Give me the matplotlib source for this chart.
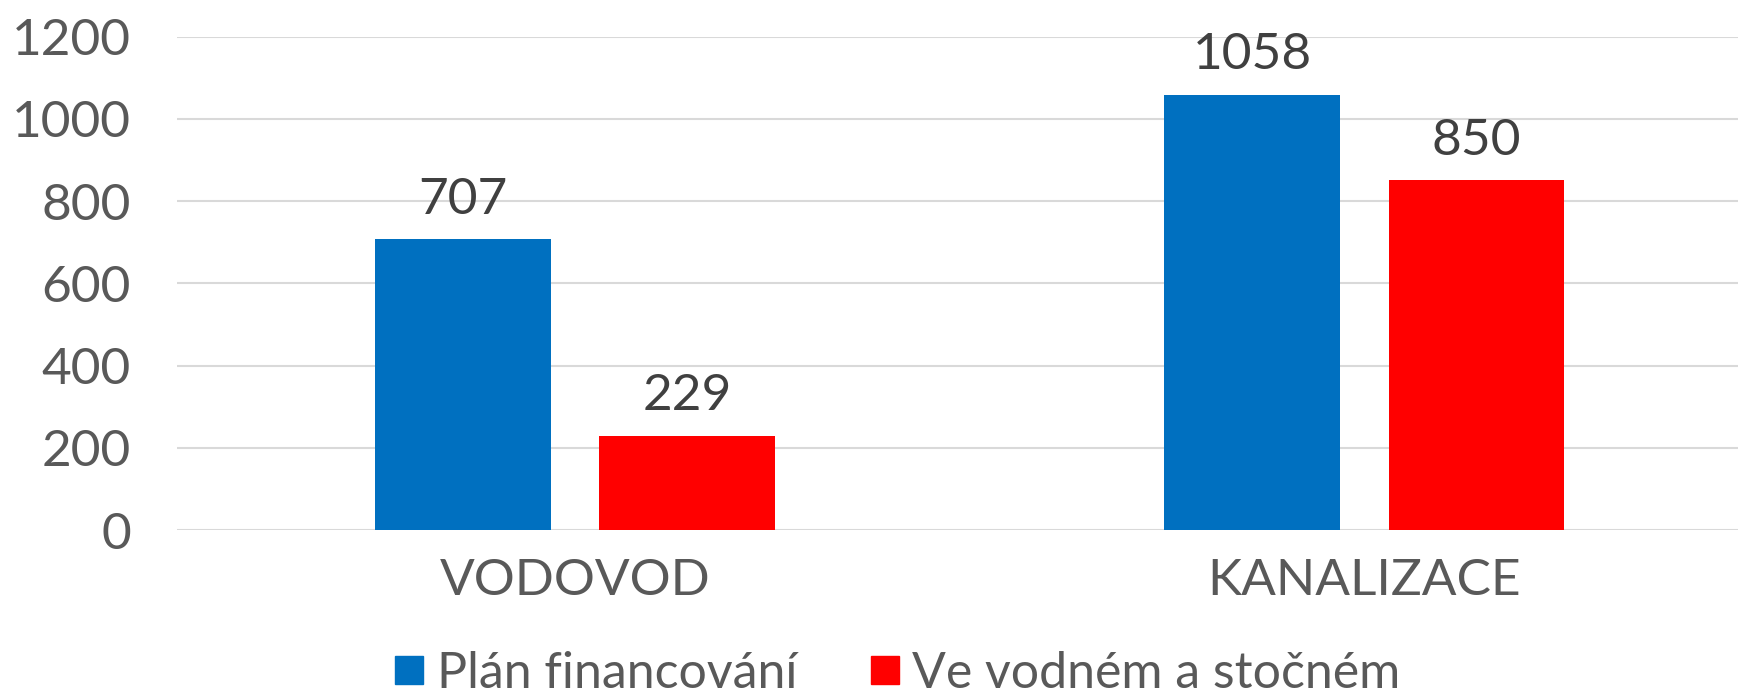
import matplotlib.pyplot as plt
import numpy as np
from matplotlib.lines import Line2D

categories = ["VODOVOD", "KANALIZACE"]
series_names = ["Plán financování", "Ve vodném a stočném"]
plan = [707, 1058]
vodne = [229, 850]
colors = ["#0070C0", "#FF0000"]
yticks = [0, 200, 400, 600, 800, 1000, 1200]

plt.rcParams['font.family'] = ['Lato', 'DejaVu Sans']
text_col = "#595959"

fig = plt.figure(figsize=(17.38, 6.96), dpi=100)
ax = fig.add_axes([0.1018, 0.2385, 0.898, 0.709])

x = np.arange(len(categories))
w = 0.223
off = 0.142
b1 = ax.bar(x - off, plan, w, color=colors[0], zorder=3)
b2 = ax.bar(x + off, vodne, w, color=colors[1], zorder=3)

for bars in (b1, b2):
    for r in bars:
        ax.annotate(f"{int(r.get_height())}", (r.get_x() + r.get_width() / 2, r.get_height()),
                    xytext=(0, 12), textcoords="offset points", ha="center", va="bottom",
                    fontsize=37, color="#404040")

ax.set_xlim(-0.505, 1.473)
ax.set_ylim(0, 1200)
ax.set_yticks(yticks)
ax.set_xticks(x)
ax.set_xticklabels(categories)
ax.tick_params(axis="y", length=0, pad=33, labelsize=37, labelcolor=text_col)
ax.tick_params(axis="x", length=0, pad=20, labelsize=37, labelcolor=text_col)
ax.grid(axis="y", color="#D9D9D9", linewidth=1.5, zorder=0)
for s in ax.spines.values():
    s.set_visible(False)

handles = [Line2D([], [], marker="s", linestyle="", markersize=20, color=c) for c in colors]
fig.legend(handles, series_names, loc="center", bbox_to_anchor=(0.5155, 0.032), ncol=2,
           frameon=False, fontsize=36, labelcolor=text_col, handletextpad=0.2,
           columnspacing=1.4, handlelength=0.7)

fig.savefig("out.png", dpi=100)
